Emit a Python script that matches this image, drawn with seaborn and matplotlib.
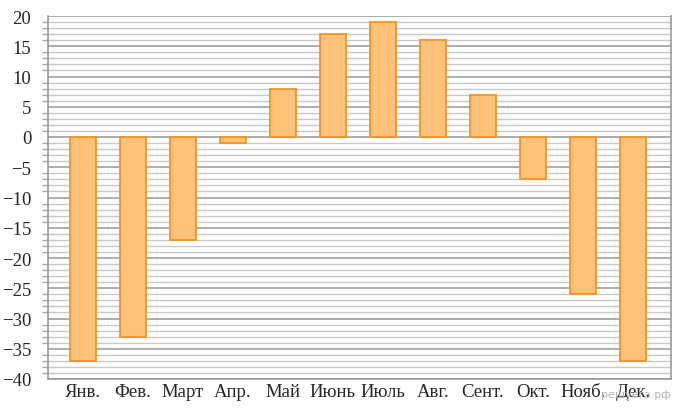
import matplotlib
matplotlib.use("Agg")
import matplotlib.pyplot as plt
import numpy as np
import pandas as pd
import seaborn as sns
from matplotlib.ticker import MultipleLocator

months = ["Янв.", "Фев.", "Март", "Апр.", "Май", "Июнь", "Июль", "Авг.", "Сент.", "Окт.", "Нояб.", "Дек."]
temps = [-37, -33, -17, -1, 8, 17, 19, 16, 7, -7, -26, -37]

sns.set_style("white")
plt.rcParams['font.family'] = ['Liberation Serif', 'DejaVu Serif']

df = pd.DataFrame({"month": months, "temp": temps})

fig = plt.figure(figsize=(6.8, 4.1), dpi=100)
ax = fig.add_axes([48 / 680, 1 - 380 / 410, (671 - 48) / 680, (380 - 17) / 410])

sns.barplot(data=df, x="month", y="temp", ax=ax, color="#FFC27A", saturation=1,
            edgecolor="#F7941D", linewidth=1.3, width=0.52, zorder=3)

ax.set_xlim(-0.7, 11.76)
ax.set_ylim(-40, 20)
ax.yaxis.set_major_locator(MultipleLocator(5))
ax.yaxis.set_minor_locator(MultipleLocator(1))
ax.grid(which="minor", axis="y", color="#c8c8c8", linewidth=1.0, zorder=0)
ax.grid(which="major", axis="y", color="#a0a0a0", linewidth=1.2, zorder=1)
ax.set_axisbelow(True)

ax.set_yticks(np.arange(-40, 21, 5))
ax.set_yticklabels([str(v).replace("-", "\u2212") for v in range(-40, 21, 5)])
ax.tick_params(axis="y", which="major", length=10, width=1, color="#999999", labelsize=13.5, pad=2)
ax.tick_params(axis="y", which="minor", length=4, width=1, color="#aaaaaa", left=True)
ax.tick_params(axis="x", length=0, labelsize=13.5, pad=3)

ax.set_xlabel("")
ax.set_ylabel("")
for side in ["left", "right", "bottom"]:
    ax.spines[side].set_color("#999999")
    ax.spines[side].set_linewidth(1.2)
ax.spines["top"].set_visible(False)

fig.text(601 / 680, 1 - 395 / 410, "решуегэ.рф", color="#b5b5b5", fontsize=8,
         family=["DejaVu Sans"], va="center", ha="left", zorder=0)

fig.savefig("out.png", dpi=100)
